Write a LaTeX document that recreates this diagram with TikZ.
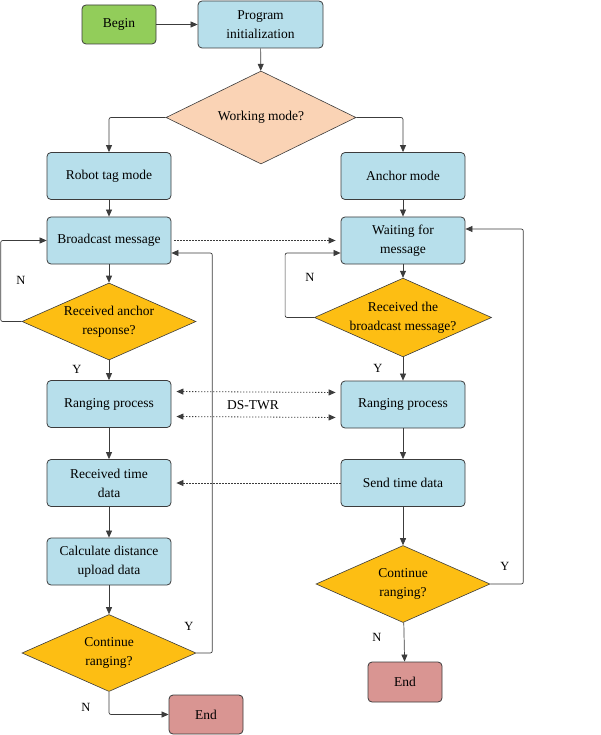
\documentclass[tikz,border=0pt]{standalone}
\usepackage{fontspec}
\setmainfont{Liberation Serif}
\usepackage{tikz}
\usetikzlibrary{shapes.geometric,arrows.meta}
\definecolor{startgreen}{HTML}{92CD5A}
\definecolor{boxblue}{HTML}{B7DFEB}
\definecolor{modepeach}{HTML}{FAD3B5}
\definecolor{askgold}{HTML}{FDBE13}
\definecolor{endred}{HTML}{D99592}
\definecolor{edgegray}{HTML}{3C3C3C}
\tikzset{
  every node/.style={font=\fontsize{13.5}{19}\selectfont, text=black},
  procbox/.style={draw=edgegray, line width=0.8pt, rounded corners=4pt, fill=boxblue,
    minimum width=124pt, minimum height=47pt, align=center, inner sep=0pt},
  termbox/.style={draw=edgegray, line width=0.8pt, rounded corners=4pt,
    minimum width=74pt, minimum height=39pt, inner sep=0pt},
  askbox/.style={draw=edgegray, line width=0.6pt, diamond, aspect=2.25, fill=askgold,
    minimum width=174pt, minimum height=77pt, align=center, inner sep=0pt},
  arr/.style={draw=edgegray, line width=0.7pt, rounded corners=2pt,
    -{Triangle[length=7pt,width=6pt]}},
  msg/.style={draw=edgegray, line width=0.8pt, dash pattern=on 1.2pt off 1.8pt,
    -{Triangle[length=7pt,width=6pt,sep=0pt]}},
  twoway/.style={msg, {Triangle[length=7pt,width=6pt]}-{Triangle[length=7pt,width=6pt]}},
  yn/.style={font=\fontsize{12.5}{14}\selectfont}
}
\begin{document}
\begin{tikzpicture}[x=1pt,y=-1pt]
    \useasboundingbox (0,0) rectangle (600,735);
    %top
    \node[termbox, fill=startgreen] (begin) at (119,24.5) {Begin};
    \node[procbox, minimum width=125pt] (init) at (260.5,24.5) {Program\\initialization};
    \node[askbox, fill=modepeach, aspect=2, minimum width=190pt, minimum height=93pt] (mode) at (261,117.5) {Working mode?};
    %robot tag side
    \node[procbox] (tag) at (109,176) {Robot tag mode};
    \node[procbox] (bcast) at (109,240.5) {Broadcast message};
    \node[askbox] (ack) at (109,321.5) {Received anchor\\response?};
    \node[procbox] (rangeL) at (109,404) {Ranging process};
    \node[procbox] (rtime) at (109,483) {Received time\\data};
    \node[procbox] (calc) at (109,561.5) {Calculate distance\\upload data};
    \node[askbox] (contL) at (109,653) {Continue\\ranging?};
    \node[termbox, fill=endred] (endL) at (206,714.5) {End};
    %anchor side
    \node[procbox] (anc) at (403,176) {Anchor mode};
    \node[procbox] (wait) at (403,240.5) {Waiting for\\message};
    \node[askbox] (recv) at (403,317.5) {Received the\\broadcast message?};
    \node[procbox] (rangeR) at (403,404.5) {Ranging process};
    \node[procbox] (stime) at (403,483) {Send time data};
    \node[askbox] (contR) at (403,584) {Continue\\ranging?};
    \node[termbox, fill=endred, minimum height=40pt] (endR) at (405,682) {End};
    %labels
    \node[yn] (nA) at (21,280) {N};
    \node[yn] (yA) at (77,369) {Y};
    \node[yn] (nB) at (310,277) {N};
    \node[yn] (yB) at (378,368) {Y};
    \node[yn] (yC) at (189,626) {Y};
    \node[yn] (nC) at (86,707) {N};
    \node[yn] (yD) at (505,566) {Y};
    \node[yn] (nD) at (377,637) {N};
    \node (twr) at (253,405) {DS-TWR};
    %flow
    \draw[arr] (begin) -- (init);
    \draw[arr] (init) -- (mode);
    \draw[arr] (mode.west) -| (tag.north);
    \draw[arr] (mode.east) -| (anc.north);
    \foreach \a/\b in {tag/bcast, bcast/ack, ack/rangeL, rangeL/rtime, rtime/calc, calc/contL,
                       anc/wait, wait/recv, recv/rangeR, rangeR/stime, stime/contR, contR/endR}
      \draw[arr] (\a) -- (\b);
    \draw[arr] (contL.south) |- (endL.west);
    \draw[arr] (ack.west) -- ++(-21,0) |- (bcast.west);
    \draw[arr] (recv.west) -- ++(-29,0) |- ([yshift=-12.5pt]wait.west);
    \draw[arr] (contL.east) -- ++(16,0) |- ([yshift=-12.5pt]bcast.east);
    \draw[arr] (contR.east) -- ++(33,0) |- ([yshift=11.5pt]wait.east);
    %messages
    \draw[msg, shorten <=3pt, shorten >=5pt] (bcast.east) -- (wait.west);
    \draw[twoway, shorten <=5pt, shorten >=5pt] ([yshift=12.5pt]rangeL.east) -- ([yshift=12pt]rangeR.west);
    \draw[twoway, shorten <=5pt, shorten >=5pt] ([yshift=-12.5pt]rangeL.east) -- ([yshift=-13pt]rangeR.west);
    \draw[msg, shorten >=5pt] (stime.west) -- (rtime.east);
\end{tikzpicture}
\end{document}
